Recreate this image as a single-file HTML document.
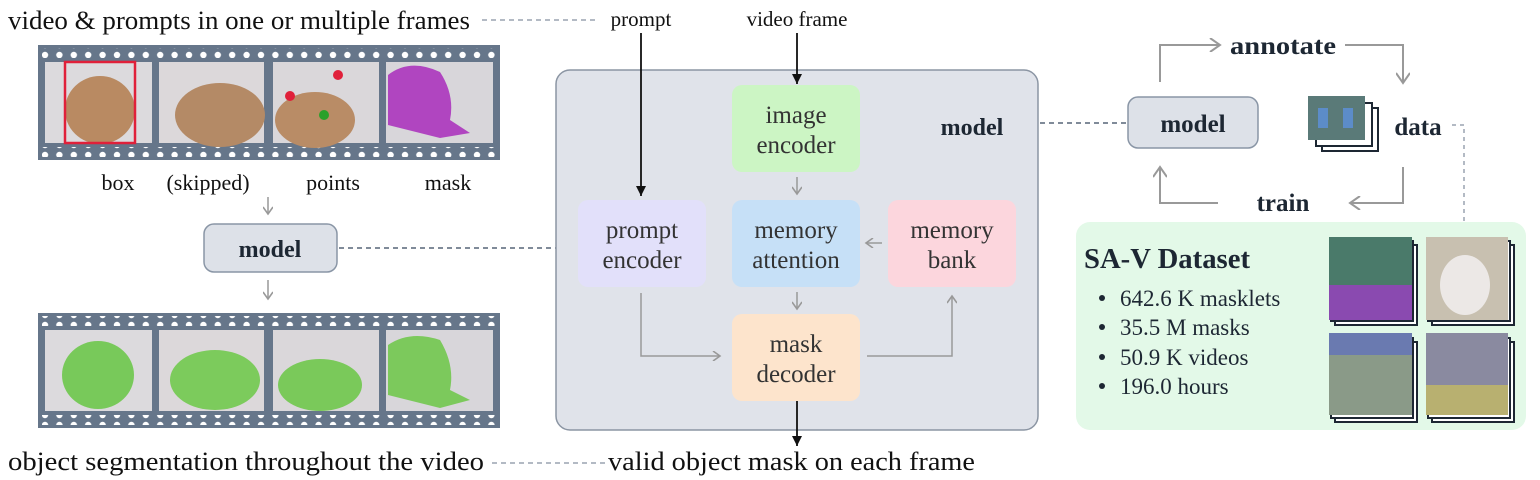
<!DOCTYPE html>
<html><head><meta charset="utf-8"><style>
body{margin:0;background:#fff;}
svg{display:block;font-family:"Liberation Serif",serif;}
</style></head><body>
<svg width="1540" height="480" viewBox="0 0 1540 480" xmlns="http://www.w3.org/2000/svg">
<defs>
<marker id="ag" markerWidth="10" markerHeight="10" refX="8" refY="5" orient="auto" markerUnits="userSpaceOnUse"><path d="M1,0 L8,5 L1,10" fill="none" stroke="#999" stroke-width="1.6"/></marker>
<marker id="ab" markerWidth="12" markerHeight="12" refX="10" refY="6" orient="auto" markerUnits="userSpaceOnUse"><path d="M0,1 L10,6 L0,11 Z" fill="#111"/></marker>
<marker id="ag2" markerWidth="14" markerHeight="14" refX="11" refY="7" orient="auto" markerUnits="userSpaceOnUse"><path d="M1,0 L11,7 L1,14" fill="none" stroke="#999" stroke-width="2"/></marker>
<pattern id="holes" x="38" y="0" width="14.4" height="10" patternUnits="userSpaceOnUse"><circle cx="7" cy="5" r="3.2" fill="#fff"/></pattern>
</defs>

<text x="8" y="29" font-size="26" fill="#111" textLength="462" lengthAdjust="spacingAndGlyphs">video &amp; prompts in one or multiple frames</text>
<line x1="482" y1="20" x2="598" y2="20" stroke="#9aa3b0" stroke-width="1.5" stroke-dasharray="5,4"/>

<rect x="38" y="45" width="462" height="115" fill="#66768a"/>
<rect x="42" y="48" width="454" height="10" fill="url(#holes)"/>
<rect x="42" y="147" width="454" height="10" fill="url(#holes)"/>
<g>
<rect x="45" y="62" width="107" height="81" fill="#dcdadd"/>
<ellipse cx="100" cy="110" rx="35" ry="34" fill="#b98a62"/>
<rect x="65" y="62" width="70" height="81" fill="none" stroke="#e0203a" stroke-width="2.5"/>
<rect x="159" y="62" width="105" height="81" fill="#dcd8da"/>
<ellipse cx="220" cy="115" rx="45" ry="32" fill="#b48a66"/>
<rect x="273" y="62" width="106" height="81" fill="#dad7da"/>
<ellipse cx="315" cy="120" rx="40" ry="28" fill="#b98c66"/>
<circle cx="338" cy="75" r="5" fill="#e0203a"/><circle cx="290" cy="96" r="5" fill="#e0203a"/><circle cx="324" cy="115" r="5" fill="#2aa02a"/>
<rect x="386" y="62" width="107" height="81" fill="#d8d6da"/>
<path d="M388,75 Q410,58 440,72 Q455,95 450,120 L470,133 L440,138 L388,125 Z" fill="#b045c0"/>
</g>
<g font-size="22" text-anchor="middle" fill="#111">
<text x="118" y="190">box</text>
<text x="208" y="190">(skipped)</text>
<text x="333" y="190">points</text>
<text x="448" y="190">mask</text>
</g>

<line x1="268" y1="197" x2="268" y2="214" stroke="#999" stroke-width="1.5" marker-end="url(#ag)"/>
<rect x="204" y="224" width="133" height="48" rx="10" fill="#dde1e8" stroke="#8a96a6" stroke-width="1.5"/>
<text x="270" y="257" font-size="24" font-weight="bold" text-anchor="middle" fill="#1d2733">model</text>
<line x1="339" y1="248" x2="556" y2="248" stroke="#6f7b8b" stroke-width="1.8" stroke-dasharray="5,4"/>
<line x1="268" y1="280" x2="268" y2="299" stroke="#999" stroke-width="1.5" marker-end="url(#ag)"/>

<rect x="38" y="313" width="462" height="115" fill="#66768a"/>
<rect x="42" y="316" width="454" height="10" fill="url(#holes)"/>
<rect x="42" y="415" width="454" height="10" fill="url(#holes)"/>
<rect x="45" y="330" width="107" height="81" fill="#dcdadd"/>
<ellipse cx="98" cy="375" rx="36" ry="34" fill="#78c95a"/>
<rect x="159" y="330" width="105" height="81" fill="#dcd8da"/>
<ellipse cx="215" cy="380" rx="45" ry="30" fill="#7ccb5c"/>
<rect x="273" y="330" width="106" height="81" fill="#dad7da"/>
<ellipse cx="320" cy="385" rx="42" ry="26" fill="#7ac95a"/>
<rect x="386" y="330" width="107" height="81" fill="#d8d6da"/>
<path d="M388,345 Q410,330 440,340 Q455,365 450,390 L470,400 L440,408 L388,395 Z" fill="#7cc95c"/>

<text x="8" y="470" font-size="26" fill="#111" textLength="476" lengthAdjust="spacingAndGlyphs">object segmentation throughout the video</text>
<line x1="492" y1="463" x2="605" y2="463" stroke="#9aa3b0" stroke-width="1.5" stroke-dasharray="5,4"/>
<text x="608" y="470" font-size="26" fill="#111" textLength="367" lengthAdjust="spacingAndGlyphs">valid object mask on each frame</text>

<rect x="556" y="70" width="482" height="360" rx="14" fill="#e0e3ea" stroke="#8b95a3" stroke-width="1.5"/>
<text x="641" y="26" font-size="21" text-anchor="middle" fill="#111">prompt</text>
<text x="797" y="26" font-size="21" text-anchor="middle" fill="#111">video frame</text>
<line x1="641" y1="33" x2="641" y2="196" stroke="#111" stroke-width="1.8" marker-end="url(#ab)"/>
<line x1="797" y1="33" x2="797" y2="84" stroke="#111" stroke-width="1.8" marker-end="url(#ab)"/>
<text x="972" y="135" font-size="24" font-weight="bold" text-anchor="middle" fill="#1d2733">model</text>

<g font-size="25" text-anchor="middle" fill="#333">
<rect x="732" y="85" width="128" height="87" rx="10" fill="#ccf5c4"/>
<text x="796" y="123">image</text>
<text x="796" y="153">encoder</text>
<rect x="578" y="200" width="128" height="87" rx="10" fill="#e2e0fa"/>
<text x="642" y="238">prompt</text>
<text x="642" y="268">encoder</text>
<rect x="732" y="200" width="128" height="87" rx="10" fill="#c6e0f7"/>
<text x="796" y="238">memory</text>
<text x="796" y="268">attention</text>
<rect x="888" y="200" width="128" height="87" rx="10" fill="#fcd6dd"/>
<text x="952" y="238">memory</text>
<text x="952" y="268">bank</text>
<rect x="732" y="314" width="128" height="87" rx="10" fill="#fde4cc"/>
<text x="796" y="352">mask</text>
<text x="796" y="382">decoder</text>
</g>

<line x1="797" y1="177" x2="797" y2="194" stroke="#999" stroke-width="1.5" marker-end="url(#ag)"/>
<line x1="797" y1="292" x2="797" y2="309" stroke="#999" stroke-width="1.5" marker-end="url(#ag)"/>
<line x1="882" y1="243" x2="866" y2="243" stroke="#999" stroke-width="1.5" marker-end="url(#ag)"/>
<polyline points="641,293 641,356 720,356" fill="none" stroke="#999" stroke-width="1.5" marker-end="url(#ag)"/>
<polyline points="867,356 952,356 952,296" fill="none" stroke="#999" stroke-width="1.5" marker-end="url(#ag)"/>
<line x1="797" y1="401" x2="797" y2="446" stroke="#111" stroke-width="1.8" marker-end="url(#ab)"/>

<line x1="1040" y1="123" x2="1128" y2="123" stroke="#6f7b8b" stroke-width="1.8" stroke-dasharray="5,4"/>
<rect x="1128" y="97" width="130" height="51" rx="10" fill="#dde1e8" stroke="#8a96a6" stroke-width="1.5"/>
<text x="1193" y="132" font-size="25" font-weight="bold" text-anchor="middle" fill="#1d2733">model</text>

<polyline points="1160,82 1160,45 1220,45" fill="none" stroke="#999" stroke-width="2" marker-end="url(#ag2)"/>
<text x="1283" y="54" font-size="25" font-weight="bold" text-anchor="middle" fill="#1d2733" textLength="106" lengthAdjust="spacingAndGlyphs">annotate</text>
<polyline points="1345,45 1403,45 1403,83" fill="none" stroke="#999" stroke-width="2" marker-end="url(#ag2)"/>
<polyline points="1403,167 1403,203 1350,203" fill="none" stroke="#999" stroke-width="2" marker-end="url(#ag2)"/>
<text x="1283" y="211" font-size="25" font-weight="bold" text-anchor="middle" fill="#1d2733">train</text>
<polyline points="1218,203 1160,203 1160,167" fill="none" stroke="#999" stroke-width="2" marker-end="url(#ag2)"/>

<rect x="1322" y="108" width="56" height="43" fill="#fff" stroke="#1d2733" stroke-width="2"/>
<rect x="1316" y="103" width="56" height="43" fill="#fff" stroke="#1d2733" stroke-width="2"/>
<rect x="1308" y="96" width="57" height="44" fill="#5a7a78"/>
<rect x="1318" y="108" width="10" height="20" fill="#5c8cc8"/><rect x="1343" y="108" width="10" height="20" fill="#5c8cc8"/>
<text x="1418" y="135" font-size="25" font-weight="bold" text-anchor="middle" fill="#1d2733">data</text>
<polyline points="1452,125 1464,125 1464,222" fill="none" stroke="#9aa3b0" stroke-width="1.5" stroke-dasharray="4,4"/>

<rect x="1076" y="222" width="450" height="208" rx="14" fill="#e3f9e8"/>
<text x="1084" y="268" font-size="28" font-weight="bold" fill="#1d2733" textLength="166" lengthAdjust="spacingAndGlyphs">SA-V Dataset</text>
<g font-size="23" fill="#1d2733">
<circle cx="1102" cy="298" r="3" fill="#1d2733"/><text x="1120" y="306">642.6 K masklets</text>
<circle cx="1102" cy="327" r="3" fill="#1d2733"/><text x="1120" y="335">35.5 M masks</text>
<circle cx="1102" cy="357" r="3" fill="#1d2733"/><text x="1120" y="365">50.9 K videos</text>
<circle cx="1102" cy="386" r="3" fill="#1d2733"/><text x="1120" y="394">196.0 hours</text>
</g>
<g stroke="#1d2733" stroke-width="2" fill="#fff">
<rect x="1335" y="245" width="82" height="80"/><rect x="1331" y="241" width="82" height="80"/>
<rect x="1432" y="245" width="82" height="80"/><rect x="1428" y="241" width="82" height="80"/>
<rect x="1335" y="342" width="82" height="80"/><rect x="1331" y="338" width="82" height="80"/>
<rect x="1432" y="342" width="82" height="80"/><rect x="1428" y="338" width="82" height="80"/>
</g>
<rect x="1329" y="237" width="83" height="83" fill="#4a7a6a"/>
<rect x="1329" y="285" width="83" height="35" fill="#8a4ab0"/>
<rect x="1426" y="237" width="82" height="83" fill="#c8c0b0"/>
<ellipse cx="1465" cy="285" rx="25" ry="30" fill="#ece8e6"/>
<rect x="1329" y="333" width="83" height="82" fill="#8a9a88"/>
<rect x="1329" y="333" width="83" height="22" fill="#6a7ab0"/>
<rect x="1426" y="333" width="82" height="82" fill="#8a8aa0"/>
<rect x="1426" y="385" width="82" height="30" fill="#b8b070"/>
</svg>
</body></html>
